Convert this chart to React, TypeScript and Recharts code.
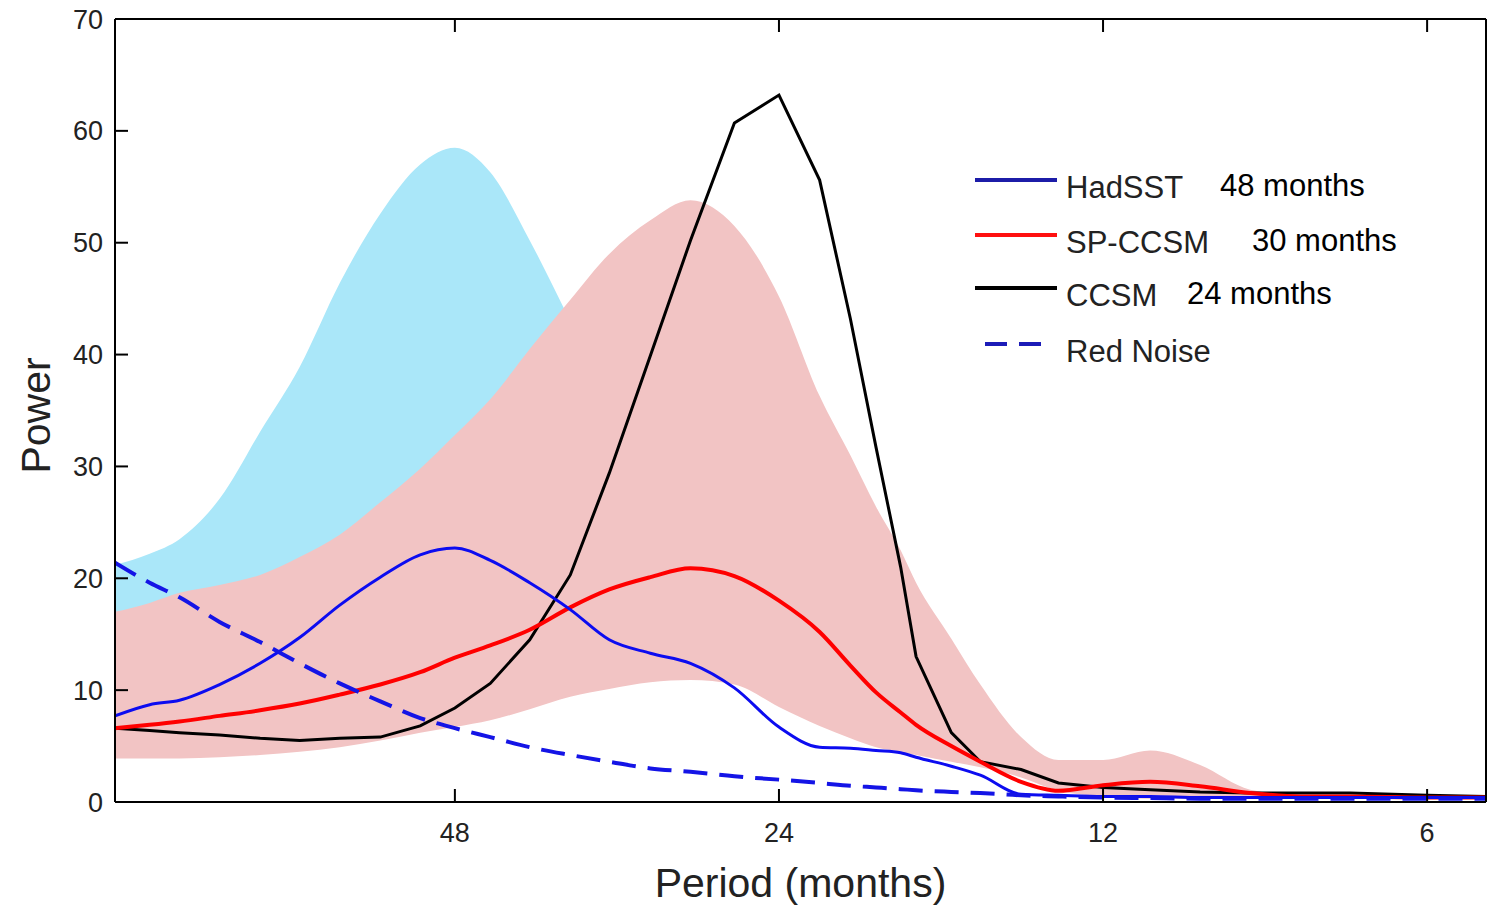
import React from "react";
import {
  ComposedChart,
  Area,
  Line,
  XAxis,
  YAxis,
} from "recharts";

// period (months), sampled along the log axis
const periods = [99.3, 92.2, 86.5, 79.4, 72.8, 66.9, 61.4, 56.3, 51.7, 48, 44.5, 40.9, 37.5, 34.5, 31.6, 29.0, 26.4, 24, 22.0, 20.6, 19.5, 18.5, 17.9, 16.6, 15.6, 14.3, 13.2, 12, 10.85, 9.75, 8.76, 7.87, 7.07, 6, 5.29];

const hadsst = [7.7, 8.7, 9.1, 10.5, 12.4, 14.7, 17.6, 20.1, 22.1, 22.7, 21.6, 19.6, 17.2, 14.5, 13.3, 12.4, 10.2, 6.7, 4.9, 4.8, 4.6, 4.4, 4.0, 3.2, 2.4, 0.7, 0.6, 0.5, 0.5, 0.4, 0.4, 0.4, 0.4, 0.4, 0.4];
const spccsm = [6.6, 6.9, 7.2, 7.7, 8.2, 8.8, 9.6, 10.5, 11.6, 12.9, 14.0, 15.4, 17.4, 19.0, 20.1, 20.9, 20.2, 18.0, 15.2, 12.2, 9.8, 8.0, 6.9, 5.0, 3.6, 1.8, 1.0, 1.5, 1.8, 1.4, 0.8, 0.5, 0.5, 0.4, 0.4];
const ccsm = [6.6, 6.4, 6.2, 6.0, 5.7, 5.5, 5.7, 5.8, 6.8, 8.4, 10.6, 14.5, 20.3, 29.4, 39.9, 50.2, 60.7, 63.2, 55.6, 43.2, 31.7, 21.0, 13.0, 6.2, 3.6, 2.9, 1.7, 1.3, 1.1, 0.9, 0.8, 0.8, 0.8, 0.6, 0.5];
const redNoise = [21.4, 19.6, 18.3, 16.1, 14.3, 12.4, 10.6, 9.0, 7.5, 6.6, 5.8, 4.9, 4.2, 3.6, 3.0, 2.7, 2.3, 2.0, 1.7, 1.45, 1.3, 1.15, 1.05, 0.9, 0.8, 0.6, 0.5, 0.4, 0.35, 0.3, 0.3, 0.3, 0.3, 0.3, 0.3];

// shaded ranges
const pinkHigh = [17.0, 17.8, 18.7, 19.4, 20.3, 21.9, 23.9, 26.8, 29.8, 32.8, 36.0, 40.5, 44.9, 49.0, 52.0, 53.8, 51.5, 45.2, 36.3, 31.0, 26.4, 22.5, 19.6, 14.6, 10.5, 5.8, 3.75, 3.75, 4.6, 3.3, 1.1, 0.6, 0.5, 0.4, 0.3];
const pinkLow = [3.9, 3.9, 3.9, 4.0, 4.2, 4.5, 4.9, 5.5, 6.2, 6.7, 7.3, 8.3, 9.4, 10.1, 10.7, 10.9, 10.5, 8.5, 6.8, 5.7, 4.9, 4.5, 4.2, 3.6, 3.1, 2.2, 1.0, 0.5, 0.3, 0.3, 0.3, 0.3, 0.3, 0.3, 0.3];
const cyanHigh = [21.2, 22.2, 23.5, 27.1, 33.1, 38.9, 46.4, 52.6, 57.0, 58.5, 56.3, 50.2, 43.0, 36.0, 29.0, 23.0, 17.0, 12.0, 9.0];
const cyanLow = [10, 10.5, 11, 11.5, 12, 13, 14, 15, 16, 17, 18, 19, 20, 20, 19, 17, 15, 11, 9];

const xTicks = [48, 24, 12, 6];
const yTicks = [0, 10, 20, 30, 40, 50, 60, 70];

const data = periods.map((p, i) => ({
  period: p,
  cyan: i < cyanHigh.length ? [cyanLow[i], cyanHigh[i]] : null,
  pink: [pinkLow[i], pinkHigh[i]],
  had: hadsst[i],
  sp: spccsm[i],
  ccsm: ccsm[i],
  noise: redNoise[i],
}));

const font = "'Liberation Sans', Arial, sans-serif";
const tickStyle = { fill: "#222", fontSize: 27, fontFamily: font };
const blank = () => "";

const legendRows = [
  { name: "HadSST", note: "48 months", noteX: 1220, color: "#1c1ca8", y: 180, dash: false },
  { name: "SP-CCSM", note: "30 months", noteX: 1252, color: "#ff1010", y: 235, dash: false },
  { name: "CCSM", note: "24 months", noteX: 1187, color: "#000", y: 288, dash: false },
  { name: "Red Noise", note: "", noteX: 0, color: "#1c1cb8", y: 344, dash: true },
];

const ChartLegend = () => (
  <svg width={1487} height={908} style={{ position: "absolute", left: 0, top: 0, pointerEvents: "none" }}>
    {legendRows.map((r) => (
      <g key={r.name}>
        {r.dash ? (
          <line x1={985} x2={1050} y1={r.y} y2={r.y} stroke={r.color} strokeWidth={4} strokeDasharray="22 12" />
        ) : (
          <line x1={975} x2={1057} y1={r.y} y2={r.y} stroke={r.color} strokeWidth={4} />
        )}
        <text x={1066} y={r.y + 18} fontSize={31} fontFamily={font} fill="#222">{r.name}</text>
        {r.note && (
          <text x={r.noteX} y={r.y + 16} fontSize={31} fontFamily={font} fill="#000">{r.note}</text>
        )}
      </g>
    ))}
  </svg>
);

export default function App() {
  return (
    <div style={{ position: "absolute", left: 0, top: 0, width: 1487, height: 908, background: "#fff" }}>
      <ComposedChart width={1487} height={908} data={data} margin={{ top: 0, right: 0, bottom: 0, left: 0 }}>
        <XAxis
          dataKey="period"
          type="number"
          scale="log"
          domain={[5.29, 99.3]}
          allowDataOverflow
          reversed
          ticks={xTicks}
          height={106}
          tickSize={-13}
          tickMargin={34}
          tick={tickStyle}
          axisLine={{ stroke: "#000", strokeWidth: 2 }}
          tickLine={{ stroke: "#000", strokeWidth: 2 }}
          label={{ value: "Period (months)", position: "insideBottom", offset: 11, fontSize: 41, fontFamily: font, fill: "#222" }}
        />
        <XAxis
          xAxisId="top"
          orientation="top"
          dataKey="period"
          type="number"
          scale="log"
          domain={[5.29, 99.3]}
          allowDataOverflow
          reversed
          ticks={xTicks}
          height={19}
          tickSize={-13}
          tickFormatter={blank}
          axisLine={{ stroke: "#000", strokeWidth: 2 }}
          tickLine={{ stroke: "#000", strokeWidth: 2 }}
        />
        <YAxis
          domain={[0, 70]}
          ticks={yTicks}
          width={115}
          tickSize={-13}
          tickMargin={25}
          tick={tickStyle}
          axisLine={{ stroke: "#000", strokeWidth: 2 }}
          tickLine={{ stroke: "#000", strokeWidth: 2 }}
          label={{
            content: ({ viewBox }: any) => (
              <text
                transform={`translate(${viewBox.x + 50}, ${viewBox.y + viewBox.height / 2 + 5}) rotate(-90)`}
                textAnchor="middle"
                fontSize={41}
                fontFamily={font}
                fill="#222"
              >
                Power
              </text>
            ),
          }}
        />
        <YAxis
          yAxisId="right"
          orientation="right"
          domain={[0, 70]}
          ticks={yTicks}
          width={1}
          tickSize={-13}
          tickFormatter={blank}
          axisLine={{ stroke: "#000", strokeWidth: 2 }}
          tickLine={{ stroke: "#000", strokeWidth: 2 }}
        />
        <Area dataKey="cyan" type="monotone" stroke="none" fill="#aae7f9" fillOpacity={1} isAnimationActive={false} />
        <Area dataKey="pink" type="monotone" stroke="none" fill="#f2c4c4" fillOpacity={1} isAnimationActive={false} />
        <Line dataKey="ccsm" type="linear" stroke="#000" strokeWidth={3} dot={false} isAnimationActive={false} />
        <Line dataKey="sp" type="monotone" stroke="#ff0000" strokeWidth={4} dot={false} isAnimationActive={false} />
        <Line dataKey="had" type="monotone" stroke="#0c0cf0" strokeWidth={3} dot={false} isAnimationActive={false} />
        <Line dataKey="noise" type="monotone" stroke="#1414e6" strokeWidth={4} strokeDasharray="24 12" dot={false} isAnimationActive={false} />
      </ComposedChart>
      <ChartLegend />
    </div>
  );
}
